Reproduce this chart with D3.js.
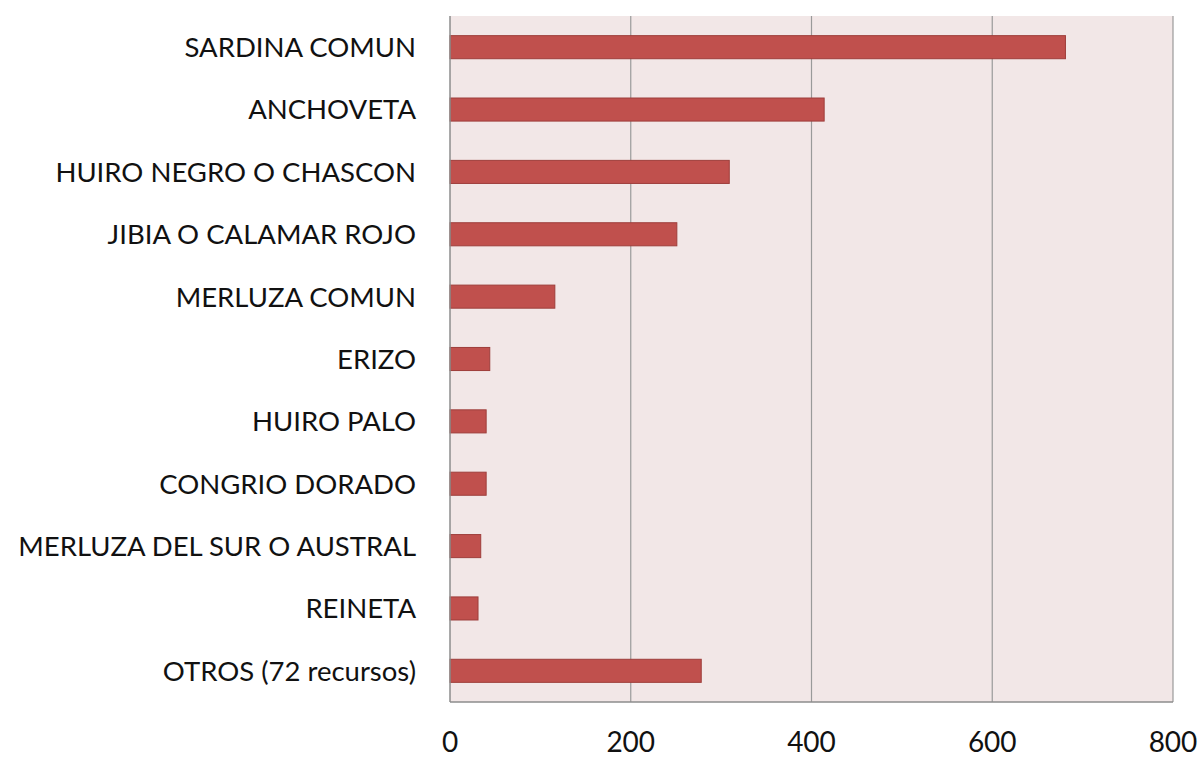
<!DOCTYPE html>
<html lang="es">
<head>
  <meta charset="UTF-8">
  <title>Desembarques por recurso</title>
  <script src="https://d3js.org/d3.v7.min.js"></script>
  <style>
    body { margin: 0; background: #fff; }
    svg text { font-family: Lato, "Open Sans", sans-serif; fill: #111; }
  </style>
</head>
<body>
  <div id="chart"></div>
  <script>
    const categories = [
      "SARDINA COMUN", "ANCHOVETA", "HUIRO NEGRO O CHASCON", "JIBIA O CALAMAR ROJO",
      "MERLUZA COMUN", "ERIZO", "HUIRO PALO", "CONGRIO DORADO",
      "MERLUZA DEL SUR O AUSTRAL", "REINETA", "OTROS (72 recursos)"
    ];
    const values = [681, 414, 309, 251, 116, 44, 40, 40, 34, 31, 278];
    const xTicks = [0, 200, 400, 600, 800];

    const width = 1200, height = 758;
    const margin = { top: 16, right: 27, bottom: 56, left: 450 };

    const svg = d3.select("#chart").append("svg")
      .attr("width", width)
      .attr("height", height);

    const x = d3.scaleLinear().domain([0, 800]).range([margin.left, width - margin.right]);
    const y = d3.scaleBand().domain(categories)
      .range([margin.top, height - margin.bottom])
      .paddingInner(0.63).paddingOuter(0.315);

    // plot background
    svg.append("rect")
      .attr("x", x(0)).attr("y", margin.top)
      .attr("width", x(800) - x(0)).attr("height", height - margin.bottom - margin.top)
      .attr("fill", "#f2e7e7");

    // vertical grid lines
    svg.append("g")
      .selectAll("line")
      .data(xTicks.slice(1))
      .join("line")
      .attr("x1", d => x(d)).attr("x2", d => x(d))
      .attr("y1", margin.top).attr("y2", height - margin.bottom)
      .attr("stroke", "#9a9a9a").attr("stroke-width", 1.2);

    // bars
    svg.append("g")
      .selectAll("rect")
      .data(values)
      .join("rect")
      .attr("x", x(0))
      .attr("y", (d, i) => y(categories[i]))
      .attr("width", d => x(d) - x(0))
      .attr("height", y.bandwidth())
      .attr("fill", "#c0504d")
      .attr("stroke", "#9e3e3b")
      .attr("stroke-width", 1);

    // axis lines
    svg.append("line")
      .attr("x1", x(0)).attr("x2", x(0))
      .attr("y1", margin.top).attr("y2", height - margin.bottom)
      .attr("stroke", "#8c8c8c").attr("stroke-width", 1.5);
    svg.append("line")
      .attr("x1", x(0)).attr("x2", x(800))
      .attr("y1", height - margin.bottom).attr("y2", height - margin.bottom)
      .attr("stroke", "#8c8c8c").attr("stroke-width", 1.5);

    // category labels
    svg.append("g")
      .selectAll("text")
      .data(categories)
      .join("text")
      .attr("x", x(0) - 34)
      .attr("y", d => y(d) + y.bandwidth() / 2)
      .attr("dy", "0.36em")
      .attr("text-anchor", "end")
      .style("font-size", "27.5px")
      .text(d => d);

    // x tick labels
    svg.append("g")
      .selectAll("text")
      .data(xTicks)
      .join("text")
      .attr("x", d => x(d))
      .attr("y", 752)
      .attr("text-anchor", "middle")
      .style("font-size", "28px")
      .text(d => d);
  </script>
</body>
</html>
